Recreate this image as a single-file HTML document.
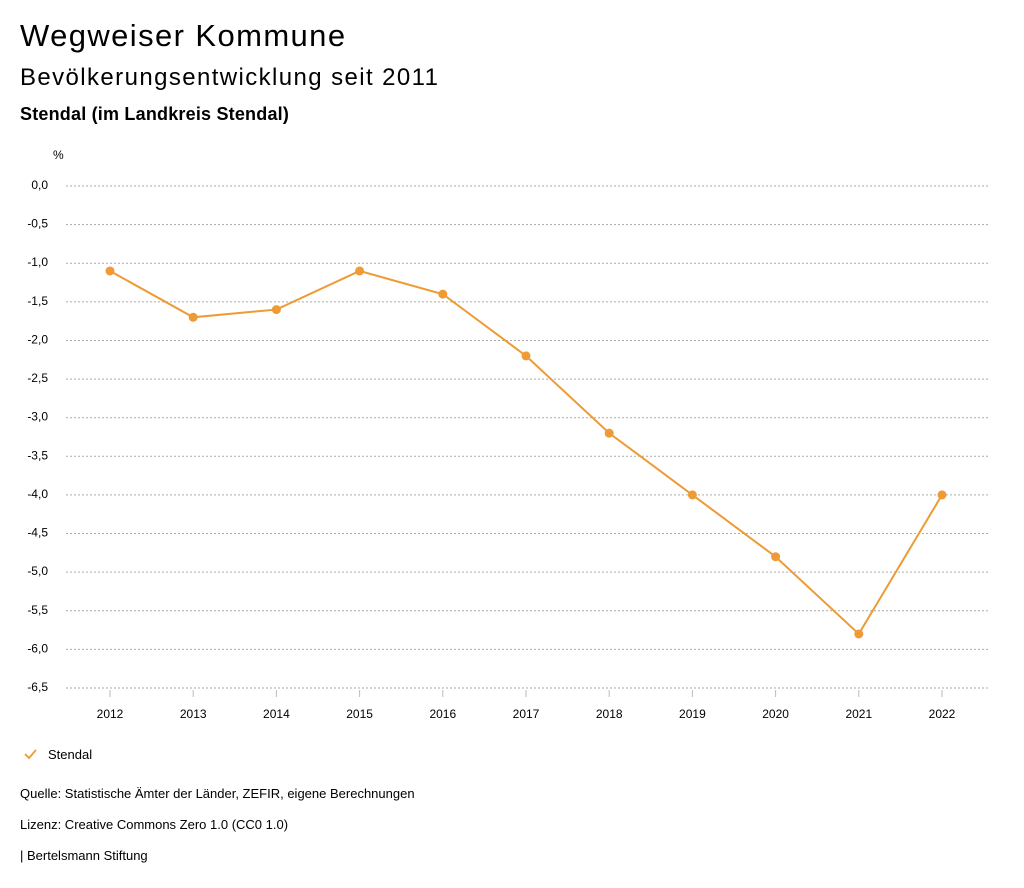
<!DOCTYPE html>
<html><head><meta charset="utf-8"><style>
body{margin:0;background:#fff;font-family:"Liberation Sans",sans-serif;color:#000}
.t{position:absolute;left:20px;white-space:nowrap}
</style></head><body>
<div style="position:relative;width:1024px;height:888px;overflow:hidden">
<div class="t" style="top:18px;font-size:31px;letter-spacing:1.4px">Wegweiser Kommune</div>
<div class="t" style="top:64px;font-size:24px;letter-spacing:1.4px">Bevölkerungsentwicklung seit 2011</div>
<div class="t" style="top:104px;font-size:18px;letter-spacing:0.2px;font-weight:bold">Stendal (im Landkreis Stendal)</div>
<svg id="chart" width="1024" height="888" style="position:absolute;left:0;top:0" font-family="Liberation Sans, sans-serif"></svg>
<div class="t" style="top:786px;font-size:13px">Quelle: Statistische Ämter der Länder, ZEFIR, eigene Berechnungen</div>
<div class="t" style="top:817px;font-size:13px">Lizenz: Creative Commons Zero 1.0 (CC0 1.0)</div>
<div class="t" style="top:848px;font-size:13px">| Bertelsmann Stiftung</div>
</div>
<script>
const years=["2012","2013","2014","2015","2016","2017","2018","2019","2020","2021","2022"];
const values=[-1.1,-1.7,-1.6,-1.1,-1.4,-2.2,-3.2,-4.0,-4.8,-5.8,-4.0];
const yTicks=[0,-0.5,-1,-1.5,-2,-2.5,-3,-3.5,-4,-4.5,-5,-5.5,-6,-6.5];
const NS="http://www.w3.org/2000/svg";
const svg=document.getElementById('chart');
const y=v=>186+(0-v)/6.5*502;
const x=i=>110+i*83.2;
function mk(t,a){const e=document.createElementNS(NS,t);for(const k in a)e.setAttribute(k,a[k]);svg.appendChild(e);return e;}
const pu=mk('text',{x:53,y:159,'font-size':12,fill:'#000'});pu.textContent='%';


yTicks.forEach(v=>{
 const l=mk('line',{x1:66,x2:990,y1:y(v),y2:y(v),stroke:'#aaa','stroke-dasharray':'2,2','stroke-width':1});
 
 
 const t=mk('text',{x:48,y:y(v)+3,'font-size':12,'text-anchor':'end',fill:'#000'});
 t.textContent=v===0?'0,0':v.toFixed(1).replace('.',',');
 
 
});
years.forEach((yr,i)=>{
 const l=mk('line',{x1:x(i),x2:x(i),y1:690,y2:697,stroke:'#bbb'});
 
 
 const t=mk('text',{x:x(i),y:718,'font-size':12,'text-anchor':'middle',fill:'#000'});
 t.textContent=yr;
 
 
});
const p=mk('polyline',{points:values.map((v,i)=>x(i)+','+y(v)).join(' '),fill:'none',stroke:'#ee9b35','stroke-width':2});


values.forEach((v,i)=>{
 const c=mk('circle',{cx:x(i),cy:y(v),r:4.5,fill:'#ee9b35'});
 
 
});
const lg=mk('polyline',{points:'25,754 29,758 36,750',fill:'none',stroke:'#ee9b35','stroke-width':1.8});


const lt=mk('text',{x:48,y:759,'font-size':13,fill:'#000'});lt.textContent='Stendal';


</script>
</body></html>
